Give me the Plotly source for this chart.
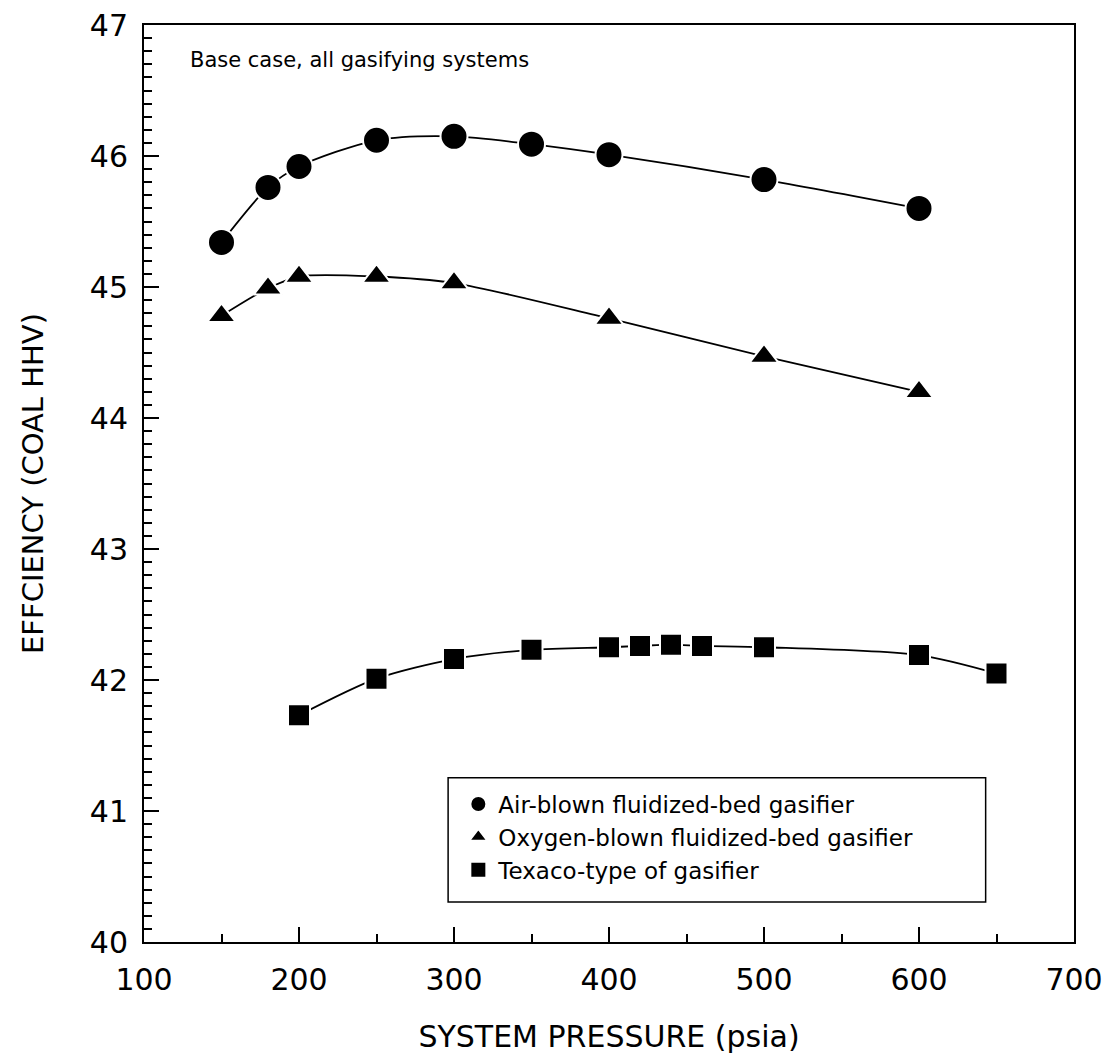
import plotly.graph_objects as go

# Data
air_x = [150, 180, 200, 250, 300, 350, 400, 500, 600]
air_y = [45.34, 45.76, 45.92, 46.12, 46.15, 46.09, 46.01, 45.82, 45.60]

oxy_x = [150, 180, 200, 250, 300, 400, 500, 600]
oxy_y = [44.78, 44.99, 45.08, 45.08, 45.03, 44.76, 44.47, 44.20]

tex_x = [200, 250, 300, 350, 400, 420, 440, 460, 500, 600, 650]
tex_y = [41.73, 42.01, 42.16, 42.23, 42.25, 42.26, 42.27, 42.26, 42.25, 42.19, 42.05]

names = ["Air-blown fluidized-bed gasifier",
         "Oxygen-blown fluidized-bed gasifier",
         "Texaco-type of gasifier"]
symbols = ["circle", "triangle-up", "square"]
sizes = [27, 25, 22]

x_ticks = [100, 200, 300, 400, 500, 600, 700]
y_ticks = [40, 41, 42, 43, 44, 45, 46, 47]

FONT = "DejaVu Sans"

fig = go.Figure()
series = [(air_x, air_y), (oxy_x, oxy_y), (tex_x, tex_y)]
for (xs, ys) in series:
    fig.add_trace(go.Scatter(x=xs, y=ys, mode="lines",
                             line=dict(color="black", width=1.8, shape="spline", smoothing=0.8),
                             showlegend=False, hoverinfo="skip"))
for (xs, ys), nm, sym, sz in zip(series, names, symbols, sizes):
    fig.add_trace(go.Scatter(x=xs, y=ys, mode="markers", name=nm,
                             marker=dict(symbol=sym, size=sz, color="black",
                                         line=dict(color="white", width=2))))

fig.add_annotation(x=0.047, y=0.962, xref="paper", yref="paper",
                   text="Base case, all gasifying systems", showarrow=False,
                   xanchor="left", yanchor="middle",
                   font=dict(family=FONT, size=21, color="black"))

# legend frame
fig.add_shape(type="rect", xref="paper", yref="paper",
              x0=0.327, x1=0.905, y0=0.0436, y1=0.179,
              line=dict(color="black", width=1.5), fillcolor="rgba(0,0,0,0)")

fig.update_layout(
    width=1097, height=1048,
    margin=dict(l=136, r=31, t=17, b=114, autoexpand=False),
    paper_bgcolor="white", plot_bgcolor="white",
    font=dict(family=FONT, color="black"),
    legend=dict(x=0.338, y=0.1145, xanchor="left", yanchor="middle",
                bgcolor="rgba(0,0,0,0)", borderwidth=0,
                font=dict(family=FONT, size=23, color="black"),
                itemsizing="trace", tracegroupgap=0),
    xaxis=dict(range=[100, 700], tickmode="array", tickvals=x_ticks,
               showgrid=False, zeroline=False, automargin=False,
               showline=True, linecolor="black", linewidth=2, mirror=True,
               ticks="inside", ticklen=15, tickwidth=2, tickcolor="black",
               ticklabelstandoff=10, ticklabeloverflow="allow",
               tickfont=dict(family=FONT, size=30, color="black"),
               minor=dict(dtick=50, ticks="inside", ticklen=8, tickwidth=2, tickcolor="black"),
               title=dict(text="SYSTEM PRESSURE (psia)", standoff=30,
                          font=dict(family=FONT, size=30, color="black"))),
    yaxis=dict(range=[40, 47], tickmode="array", tickvals=y_ticks,
               showgrid=False, zeroline=False, automargin=False,
               showline=True, linecolor="black", linewidth=2, mirror=True,
               ticks="inside", ticklen=15, tickwidth=2, tickcolor="black",
               ticklabelstandoff=8, ticklabeloverflow="allow",
               tickfont=dict(family=FONT, size=30, color="black"),
               minor=dict(dtick=0.1, ticks="inside", ticklen=8, tickwidth=2, tickcolor="black"),
               title=dict(text="EFFCIENCY (COAL HHV)", standoff=38,
                          font=dict(family=FONT, size=29, color="black"))),
)

fig.write_html("out.html")
